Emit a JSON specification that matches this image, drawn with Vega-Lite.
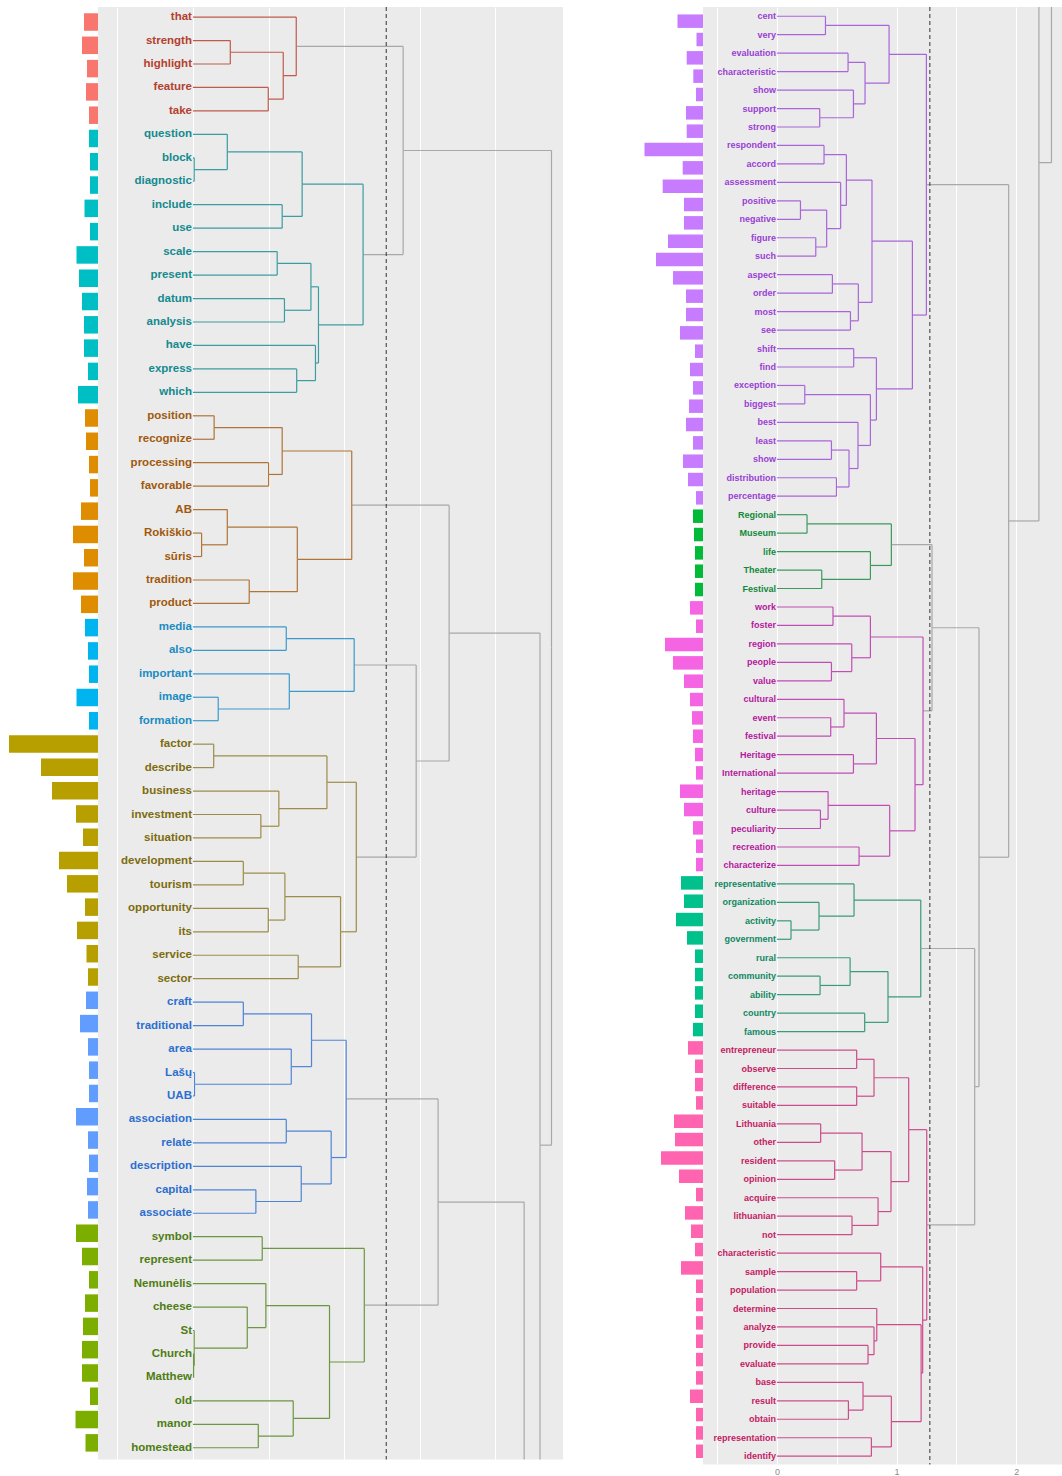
{
"$schema":"https://vega.github.io/schema/vega-lite/v6.json",
"padding":{"left":0,"top":6,"right":0,"bottom":0},
"spacing":0,
"bounds":"flush",
"config":{"view":{"stroke":null},"font":"Liberation Sans"},
"resolve":{"scale":{"x":"independent","y":"independent","color":"independent","stroke":"independent"}},
"datasets":{
"cut":[{"h":1.278}],
"leavesL":[
{"id":1,"w":"that","n":14,"g":"red"},{"id":2,"w":"strength","n":16,"g":"red"},{"id":3,"w":"highlight","n":11,"g":"red"},{"id":4,"w":"feature","n":12,"g":"red"},{"id":5,"w":"take","n":9,"g":"red"},
{"id":6,"w":"question","n":9,"g":"teal"},{"id":7,"w":"block","n":8,"g":"teal"},{"id":8,"w":"diagnostic","n":8,"g":"teal"},{"id":9,"w":"include","n":13.5,"g":"teal"},{"id":10,"w":"use","n":8,"g":"teal"},{"id":11,"w":"scale","n":21.5,"g":"teal"},{"id":12,"w":"present","n":19,"g":"teal"},{"id":13,"w":"datum","n":16,"g":"teal"},{"id":14,"w":"analysis","n":14,"g":"teal"},{"id":15,"w":"have","n":14,"g":"teal"},{"id":16,"w":"express","n":10,"g":"teal"},{"id":17,"w":"which","n":20,"g":"teal"},
{"id":18,"w":"position","n":13,"g":"orange"},{"id":19,"w":"recognize","n":12,"g":"orange"},{"id":20,"w":"processing","n":9,"g":"orange"},{"id":21,"w":"favorable","n":8,"g":"orange"},{"id":22,"w":"AB","n":17,"g":"orange"},{"id":23,"w":"Rokiškio","n":25,"g":"orange"},{"id":24,"w":"sūris","n":14,"g":"orange"},{"id":25,"w":"tradition","n":25,"g":"orange"},{"id":26,"w":"product","n":17,"g":"orange"},
{"id":27,"w":"media","n":13,"g":"lblue"},{"id":28,"w":"also","n":10,"g":"lblue"},{"id":29,"w":"important","n":9,"g":"lblue"},{"id":30,"w":"image","n":21.5,"g":"lblue"},{"id":31,"w":"formation","n":9,"g":"lblue"},
{"id":32,"w":"factor","n":89,"g":"olive"},{"id":33,"w":"describe","n":57,"g":"olive"},{"id":34,"w":"business","n":46,"g":"olive"},{"id":35,"w":"investment","n":22,"g":"olive"},{"id":36,"w":"situation","n":15,"g":"olive"},{"id":37,"w":"development","n":39,"g":"olive"},{"id":38,"w":"tourism","n":31,"g":"olive"},{"id":39,"w":"opportunity","n":13,"g":"olive"},{"id":40,"w":"its","n":21,"g":"olive"},{"id":41,"w":"service","n":11.5,"g":"olive"},{"id":42,"w":"sector","n":10,"g":"olive"},
{"id":43,"w":"craft","n":12,"g":"blue"},{"id":44,"w":"traditional","n":18,"g":"blue"},{"id":45,"w":"area","n":10,"g":"blue"},{"id":46,"w":"Lašų","n":9,"g":"blue"},{"id":47,"w":"UAB","n":9,"g":"blue"},{"id":48,"w":"association","n":22,"g":"blue"},{"id":49,"w":"relate","n":10,"g":"blue"},{"id":50,"w":"description","n":9,"g":"blue"},{"id":51,"w":"capital","n":11,"g":"blue"},{"id":52,"w":"associate","n":10,"g":"blue"},
{"id":53,"w":"symbol","n":22,"g":"green"},{"id":54,"w":"represent","n":16,"g":"green"},{"id":55,"w":"Nemunėlis","n":9,"g":"green"},{"id":56,"w":"cheese","n":13,"g":"green"},{"id":57,"w":"St","n":15,"g":"green"},{"id":58,"w":"Church","n":16,"g":"green"},{"id":59,"w":"Matthew","n":16,"g":"green"},{"id":60,"w":"old","n":8,"g":"green"},{"id":61,"w":"manor","n":22.5,"g":"green"},{"id":62,"w":"homestead","n":12.5,"g":"green"}
],
"leavesR":[
{"id":63,"w":"cent","n":25.5,"g":"purple"},{"id":64,"w":"very","n":6.5,"g":"purple"},{"id":65,"w":"evaluation","n":16.3,"g":"purple"},{"id":66,"w":"characteristic","n":9.7,"g":"purple"},{"id":67,"w":"show","n":7,"g":"purple"},{"id":68,"w":"support","n":17,"g":"purple"},{"id":69,"w":"strong","n":16.3,"g":"purple"},{"id":70,"w":"respondent","n":58.5,"g":"purple"},{"id":71,"w":"accord","n":20.3,"g":"purple"},{"id":72,"w":"assessment","n":40.3,"g":"purple"},{"id":73,"w":"positive","n":19,"g":"purple"},{"id":74,"w":"negative","n":19,"g":"purple"},{"id":75,"w":"figure","n":35,"g":"purple"},{"id":76,"w":"such","n":47,"g":"purple"},{"id":77,"w":"aspect","n":30,"g":"purple"},{"id":78,"w":"order","n":17,"g":"purple"},{"id":79,"w":"most","n":17,"g":"purple"},{"id":80,"w":"see","n":23,"g":"purple"},{"id":81,"w":"shift","n":8,"g":"purple"},{"id":82,"w":"find","n":13,"g":"purple"},{"id":83,"w":"exception","n":10,"g":"purple"},{"id":84,"w":"biggest","n":14,"g":"purple"},{"id":85,"w":"best","n":17,"g":"purple"},{"id":86,"w":"least","n":10,"g":"purple"},{"id":87,"w":"show","n":20,"g":"purple"},{"id":88,"w":"distribution","n":15,"g":"purple"},{"id":89,"w":"percentage","n":7,"g":"purple"},
{"id":90,"w":"Regional","n":10,"g":"greenR"},{"id":91,"w":"Museum","n":9,"g":"greenR"},{"id":92,"w":"life","n":8,"g":"greenR"},{"id":93,"w":"Theater","n":8,"g":"greenR"},{"id":94,"w":"Festival","n":8,"g":"greenR"},
{"id":95,"w":"work","n":13,"g":"magenta"},{"id":96,"w":"foster","n":7,"g":"magenta"},{"id":97,"w":"region","n":38,"g":"magenta"},{"id":98,"w":"people","n":30,"g":"magenta"},{"id":99,"w":"value","n":19,"g":"magenta"},{"id":100,"w":"cultural","n":13,"g":"magenta"},{"id":101,"w":"event","n":11,"g":"magenta"},{"id":102,"w":"festival","n":10,"g":"magenta"},{"id":103,"w":"Heritage","n":8,"g":"magenta"},{"id":104,"w":"International","n":7,"g":"magenta"},{"id":105,"w":"heritage","n":23,"g":"magenta"},{"id":106,"w":"culture","n":19,"g":"magenta"},{"id":107,"w":"peculiarity","n":10,"g":"magenta"},{"id":108,"w":"recreation","n":7,"g":"magenta"},{"id":109,"w":"characterize","n":7,"g":"magenta"},
{"id":110,"w":"representative","n":22,"g":"tgreen"},{"id":111,"w":"organization","n":19,"g":"tgreen"},{"id":112,"w":"activity","n":27,"g":"tgreen"},{"id":113,"w":"government","n":16,"g":"tgreen"},{"id":114,"w":"rural","n":8,"g":"tgreen"},{"id":115,"w":"community","n":8,"g":"tgreen"},{"id":116,"w":"ability","n":8,"g":"tgreen"},{"id":117,"w":"country","n":8,"g":"tgreen"},{"id":118,"w":"famous","n":10,"g":"tgreen"},
{"id":119,"w":"entrepreneur","n":15,"g":"pink"},{"id":120,"w":"observe","n":8,"g":"pink"},{"id":121,"w":"difference","n":8,"g":"pink"},{"id":122,"w":"suitable","n":7,"g":"pink"},{"id":123,"w":"Lithuania","n":29,"g":"pink"},{"id":124,"w":"other","n":28,"g":"pink"},{"id":125,"w":"resident","n":42,"g":"pink"},{"id":126,"w":"opinion","n":24,"g":"pink"},{"id":127,"w":"acquire","n":7,"g":"pink"},{"id":128,"w":"lithuanian","n":18,"g":"pink"},{"id":129,"w":"not","n":12,"g":"pink"},{"id":130,"w":"characteristic","n":8,"g":"pink"},{"id":131,"w":"sample","n":22,"g":"pink"},{"id":132,"w":"population","n":7,"g":"pink"},{"id":133,"w":"determine","n":7,"g":"pink"},{"id":134,"w":"analyze","n":7,"g":"pink"},{"id":135,"w":"provide","n":7,"g":"pink"},{"id":136,"w":"evaluate","n":7,"g":"pink"},{"id":137,"w":"base","n":7,"g":"pink"},{"id":138,"w":"result","n":13,"g":"pink"},{"id":139,"w":"obtain","n":7,"g":"pink"},{"id":140,"w":"representation","n":7,"g":"pink"},{"id":141,"w":"identify","n":7,"g":"pink"}
],
"edges":[
{"a":0,"b":0.247,"y":2,"m":2.5,"g":"red"},{"a":0,"b":0.247,"y":3,"m":2.5,"g":"red"},{"a":0,"b":0.498,"y":4,"m":4.5,"g":"red"},{"a":0,"b":0.498,"y":5,"m":4.5,"g":"red"},{"a":0.247,"b":0.597,"y":2.5,"m":3.5,"g":"red"},{"a":0.498,"b":0.597,"y":4.5,"m":3.5,"g":"red"},{"a":0,"b":0.683,"y":1,"m":2.25,"g":"red"},{"a":0.597,"b":0.683,"y":3.5,"m":2.25,"g":"red"},
{"a":0.683,"b":1.39,"y":2.25,"m":6.6875,"g":"gray"},{"a":1.125,"b":1.39,"y":11.125,"m":6.6875,"g":"gray"},
{"a":0,"b":0.008,"y":7,"m":7.5,"g":"teal"},{"a":0,"b":0.008,"y":8,"m":7.5,"g":"teal"},{"a":0,"b":0.227,"y":6,"m":6.75,"g":"teal"},{"a":0.008,"b":0.227,"y":7.5,"m":6.75,"g":"teal"},{"a":0,"b":0.59,"y":9,"m":9.5,"g":"teal"},{"a":0,"b":0.59,"y":10,"m":9.5,"g":"teal"},{"a":0.227,"b":0.722,"y":6.75,"m":8.125,"g":"teal"},{"a":0.59,"b":0.722,"y":9.5,"m":8.125,"g":"teal"},{"a":0,"b":0.557,"y":11,"m":11.5,"g":"teal"},{"a":0,"b":0.557,"y":12,"m":11.5,"g":"teal"},{"a":0,"b":0.605,"y":13,"m":13.5,"g":"teal"},{"a":0,"b":0.605,"y":14,"m":13.5,"g":"teal"},{"a":0.557,"b":0.78,"y":11.5,"m":12.5,"g":"teal"},{"a":0.605,"b":0.78,"y":13.5,"m":12.5,"g":"teal"},{"a":0,"b":0.686,"y":16,"m":16.5,"g":"teal"},{"a":0,"b":0.686,"y":17,"m":16.5,"g":"teal"},{"a":0,"b":0.81,"y":15,"m":15.75,"g":"teal"},{"a":0.686,"b":0.81,"y":16.5,"m":15.75,"g":"teal"},{"a":0.78,"b":0.83,"y":12.5,"m":14.125,"g":"teal"},{"a":0.81,"b":0.83,"y":15.75,"m":14.125,"g":"teal"},{"a":0.722,"b":1.125,"y":8.125,"m":11.125,"g":"teal"},{"a":0.83,"b":1.125,"y":14.125,"m":11.125,"g":"teal"},
{"a":0,"b":0.14,"y":18,"m":18.5,"g":"orange"},{"a":0,"b":0.14,"y":19,"m":18.5,"g":"orange"},{"a":0,"b":0.5,"y":20,"m":20.5,"g":"orange"},{"a":0,"b":0.5,"y":21,"m":20.5,"g":"orange"},{"a":0.14,"b":0.59,"y":18.5,"m":19.5,"g":"orange"},{"a":0.5,"b":0.59,"y":20.5,"m":19.5,"g":"orange"},{"a":0,"b":0.057,"y":23,"m":23.5,"g":"orange"},{"a":0,"b":0.057,"y":24,"m":23.5,"g":"orange"},{"a":0,"b":0.227,"y":22,"m":22.75,"g":"orange"},{"a":0.057,"b":0.227,"y":23.5,"m":22.75,"g":"orange"},{"a":0,"b":0.372,"y":25,"m":25.5,"g":"orange"},{"a":0,"b":0.372,"y":26,"m":25.5,"g":"orange"},{"a":0.227,"b":0.69,"y":22.75,"m":24.125,"g":"orange"},{"a":0.372,"b":0.69,"y":25.5,"m":24.125,"g":"orange"},{"a":0.59,"b":1.05,"y":19.5,"m":21.8125,"g":"orange"},{"a":0.69,"b":1.05,"y":24.125,"m":21.8125,"g":"orange"},
{"a":0,"b":0.617,"y":27,"m":27.5,"g":"lblue"},{"a":0,"b":0.617,"y":28,"m":27.5,"g":"lblue"},{"a":0,"b":0.167,"y":30,"m":30.5,"g":"lblue"},{"a":0,"b":0.167,"y":31,"m":30.5,"g":"lblue"},{"a":0,"b":0.637,"y":29,"m":29.75,"g":"lblue"},{"a":0.167,"b":0.637,"y":30.5,"m":29.75,"g":"lblue"},{"a":0.617,"b":1.066,"y":27.5,"m":28.625,"g":"lblue"},{"a":0.637,"b":1.066,"y":29.75,"m":28.625,"g":"lblue"},
{"a":0,"b":0.137,"y":32,"m":32.5,"g":"olive"},{"a":0,"b":0.137,"y":33,"m":32.5,"g":"olive"},{"a":0,"b":0.449,"y":35,"m":35.5,"g":"olive"},{"a":0,"b":0.449,"y":36,"m":35.5,"g":"olive"},{"a":0,"b":0.568,"y":34,"m":34.75,"g":"olive"},{"a":0.449,"b":0.568,"y":35.5,"m":34.75,"g":"olive"},{"a":0.137,"b":0.886,"y":32.5,"m":33.625,"g":"olive"},{"a":0.568,"b":0.886,"y":34.75,"m":33.625,"g":"olive"},{"a":0,"b":0.333,"y":37,"m":37.5,"g":"olive"},{"a":0,"b":0.333,"y":38,"m":37.5,"g":"olive"},{"a":0,"b":0.498,"y":39,"m":39.5,"g":"olive"},{"a":0,"b":0.498,"y":40,"m":39.5,"g":"olive"},{"a":0.333,"b":0.608,"y":37.5,"m":38.5,"g":"olive"},{"a":0.498,"b":0.608,"y":39.5,"m":38.5,"g":"olive"},{"a":0,"b":0.696,"y":41,"m":41.5,"g":"olive"},{"a":0,"b":0.696,"y":42,"m":41.5,"g":"olive"},{"a":0.608,"b":0.976,"y":38.5,"m":40,"g":"olive"},{"a":0.696,"b":0.976,"y":41.5,"m":40,"g":"olive"},{"a":0.886,"b":1.08,"y":33.625,"m":36.8125,"g":"olive"},{"a":0.976,"b":1.08,"y":40,"m":36.8125,"g":"olive"},
{"a":1.066,"b":1.476,"y":28.625,"m":32.71875,"g":"gray"},{"a":1.08,"b":1.476,"y":36.8125,"m":32.71875,"g":"gray"},{"a":1.05,"b":1.694,"y":21.8125,"m":27.2656,"g":"gray"},{"a":1.476,"b":1.694,"y":32.71875,"m":27.2656,"g":"gray"},
{"a":0,"b":0.333,"y":43,"m":43.5,"g":"blue"},{"a":0,"b":0.333,"y":44,"m":43.5,"g":"blue"},{"a":0,"b":0.01,"y":46,"m":46.5,"g":"blue"},{"a":0,"b":0.01,"y":47,"m":46.5,"g":"blue"},{"a":0,"b":0.65,"y":45,"m":45.75,"g":"blue"},{"a":0.01,"b":0.65,"y":46.5,"m":45.75,"g":"blue"},{"a":0.333,"b":0.784,"y":43.5,"m":44.625,"g":"blue"},{"a":0.65,"b":0.784,"y":45.75,"m":44.625,"g":"blue"},{"a":0,"b":0.617,"y":48,"m":48.5,"g":"blue"},{"a":0,"b":0.617,"y":49,"m":48.5,"g":"blue"},{"a":0,"b":0.416,"y":51,"m":51.5,"g":"blue"},{"a":0,"b":0.416,"y":52,"m":51.5,"g":"blue"},{"a":0,"b":0.716,"y":50,"m":50.75,"g":"blue"},{"a":0.416,"b":0.716,"y":51.5,"m":50.75,"g":"blue"},{"a":0.617,"b":0.914,"y":48.5,"m":49.625,"g":"blue"},{"a":0.716,"b":0.914,"y":50.75,"m":49.625,"g":"blue"},{"a":0.784,"b":1.013,"y":44.625,"m":47.125,"g":"blue"},{"a":0.914,"b":1.013,"y":49.625,"m":47.125,"g":"blue"},
{"a":0,"b":0.458,"y":53,"m":53.5,"g":"green"},{"a":0,"b":0.458,"y":54,"m":53.5,"g":"green"},{"a":0,"b":0.004,"y":58,"m":58.5,"g":"green"},{"a":0,"b":0.004,"y":59,"m":58.5,"g":"green"},{"a":0,"b":0.008,"y":57,"m":57.75,"g":"green"},{"a":0.004,"b":0.008,"y":58.5,"m":57.75,"g":"green"},{"a":0,"b":0.359,"y":56,"m":56.875,"g":"green"},{"a":0.008,"b":0.359,"y":57.75,"m":56.875,"g":"green"},{"a":0,"b":0.482,"y":55,"m":55.9375,"g":"green"},{"a":0.359,"b":0.482,"y":56.875,"m":55.9375,"g":"green"},{"a":0,"b":0.432,"y":61,"m":61.5,"g":"green"},{"a":0,"b":0.432,"y":62,"m":61.5,"g":"green"},{"a":0,"b":0.663,"y":60,"m":60.75,"g":"green"},{"a":0.432,"b":0.663,"y":61.5,"m":60.75,"g":"green"},{"a":0.482,"b":0.903,"y":55.9375,"m":58.34375,"g":"green"},{"a":0.663,"b":0.903,"y":60.75,"m":58.34375,"g":"green"},{"a":0.458,"b":1.133,"y":53.5,"m":55.9219,"g":"green"},{"a":0.903,"b":1.133,"y":58.34375,"m":55.9219,"g":"green"},
{"a":1.013,"b":1.621,"y":47.125,"m":51.5234,"g":"gray"},{"a":1.133,"b":1.621,"y":55.9219,"m":51.5234,"g":"gray"},
{"a":0,"b":0.405,"y":63,"m":63.5,"g":"purple"},{"a":0,"b":0.405,"y":64,"m":63.5,"g":"purple"},{"a":0,"b":0.594,"y":65,"m":65.5,"g":"purple"},{"a":0,"b":0.594,"y":66,"m":65.5,"g":"purple"},{"a":0,"b":0.357,"y":68,"m":68.5,"g":"purple"},{"a":0,"b":0.357,"y":69,"m":68.5,"g":"purple"},{"a":0,"b":0.639,"y":67,"m":67.75,"g":"purple"},{"a":0.357,"b":0.639,"y":68.5,"m":67.75,"g":"purple"},{"a":0.594,"b":0.736,"y":65.5,"m":66.625,"g":"purple"},{"a":0.639,"b":0.736,"y":67.75,"m":66.625,"g":"purple"},{"a":0.405,"b":0.937,"y":63.5,"m":65.0625,"g":"purple"},{"a":0.736,"b":0.937,"y":66.625,"m":65.0625,"g":"purple"},
{"a":0,"b":0.393,"y":70,"m":70.5,"g":"purple"},{"a":0,"b":0.393,"y":71,"m":70.5,"g":"purple"},{"a":0,"b":0.196,"y":73,"m":73.5,"g":"purple"},{"a":0,"b":0.196,"y":74,"m":73.5,"g":"purple"},{"a":0,"b":0.324,"y":75,"m":75.5,"g":"purple"},{"a":0,"b":0.324,"y":76,"m":75.5,"g":"purple"},{"a":0.196,"b":0.415,"y":73.5,"m":74.5,"g":"purple"},{"a":0.324,"b":0.415,"y":75.5,"m":74.5,"g":"purple"},{"a":0,"b":0.532,"y":72,"m":73.25,"g":"purple"},{"a":0.415,"b":0.532,"y":74.5,"m":73.25,"g":"purple"},{"a":0.393,"b":0.58,"y":70.5,"m":71.875,"g":"purple"},{"a":0.532,"b":0.58,"y":73.25,"m":71.875,"g":"purple"},
{"a":0,"b":0.463,"y":77,"m":77.5,"g":"purple"},{"a":0,"b":0.463,"y":78,"m":77.5,"g":"purple"},{"a":0,"b":0.614,"y":79,"m":79.5,"g":"purple"},{"a":0,"b":0.614,"y":80,"m":79.5,"g":"purple"},{"a":0.463,"b":0.68,"y":77.5,"m":78.5,"g":"purple"},{"a":0.614,"b":0.68,"y":79.5,"m":78.5,"g":"purple"},{"a":0.58,"b":0.794,"y":71.875,"m":75.1875,"g":"purple"},{"a":0.68,"b":0.794,"y":78.5,"m":75.1875,"g":"purple"},
{"a":0,"b":0.641,"y":81,"m":81.5,"g":"purple"},{"a":0,"b":0.641,"y":82,"m":81.5,"g":"purple"},{"a":0,"b":0.232,"y":83,"m":83.5,"g":"purple"},{"a":0,"b":0.232,"y":84,"m":83.5,"g":"purple"},{"a":0,"b":0.455,"y":86,"m":86.5,"g":"purple"},{"a":0,"b":0.455,"y":87,"m":86.5,"g":"purple"},{"a":0,"b":0.497,"y":88,"m":88.5,"g":"purple"},{"a":0,"b":0.497,"y":89,"m":88.5,"g":"purple"},{"a":0.455,"b":0.602,"y":86.5,"m":87.5,"g":"purple"},{"a":0.497,"b":0.602,"y":88.5,"m":87.5,"g":"purple"},{"a":0,"b":0.677,"y":85,"m":86.25,"g":"purple"},{"a":0.602,"b":0.677,"y":87.5,"m":86.25,"g":"purple"},{"a":0.232,"b":0.781,"y":83.5,"m":84.875,"g":"purple"},{"a":0.677,"b":0.781,"y":86.25,"m":84.875,"g":"purple"},{"a":0.641,"b":0.831,"y":81.5,"m":83.1875,"g":"purple"},{"a":0.781,"b":0.831,"y":84.875,"m":83.1875,"g":"purple"},{"a":0.794,"b":1.132,"y":75.1875,"m":79.1875,"g":"purple"},{"a":0.831,"b":1.132,"y":83.1875,"m":79.1875,"g":"purple"},{"a":0.937,"b":1.249,"y":65.0625,"m":72.125,"g":"purple"},{"a":1.132,"b":1.249,"y":79.1875,"m":72.125,"g":"purple"},
{"a":0,"b":0.251,"y":90,"m":90.5,"g":"greenR"},{"a":0,"b":0.251,"y":91,"m":90.5,"g":"greenR"},{"a":0,"b":0.374,"y":93,"m":93.5,"g":"greenR"},{"a":0,"b":0.374,"y":94,"m":93.5,"g":"greenR"},{"a":0,"b":0.781,"y":92,"m":92.75,"g":"greenR"},{"a":0.374,"b":0.781,"y":93.5,"m":92.75,"g":"greenR"},{"a":0.251,"b":0.956,"y":90.5,"m":91.625,"g":"greenR"},{"a":0.781,"b":0.956,"y":92.75,"m":91.625,"g":"greenR"},
{"a":0,"b":0.468,"y":95,"m":95.5,"g":"magenta"},{"a":0,"b":0.468,"y":96,"m":95.5,"g":"magenta"},{"a":0,"b":0.455,"y":98,"m":98.5,"g":"magenta"},{"a":0,"b":0.455,"y":99,"m":98.5,"g":"magenta"},{"a":0,"b":0.625,"y":97,"m":97.75,"g":"magenta"},{"a":0.455,"b":0.625,"y":98.5,"m":97.75,"g":"magenta"},{"a":0.468,"b":0.781,"y":95.5,"m":96.625,"g":"magenta"},{"a":0.625,"b":0.781,"y":97.75,"m":96.625,"g":"magenta"},{"a":0,"b":0.449,"y":101,"m":101.5,"g":"magenta"},{"a":0,"b":0.449,"y":102,"m":101.5,"g":"magenta"},{"a":0,"b":0.56,"y":100,"m":100.75,"g":"magenta"},{"a":0.449,"b":0.56,"y":101.5,"m":100.75,"g":"magenta"},{"a":0,"b":0.639,"y":103,"m":103.5,"g":"magenta"},{"a":0,"b":0.639,"y":104,"m":103.5,"g":"magenta"},{"a":0.56,"b":0.831,"y":100.75,"m":102.125,"g":"magenta"},{"a":0.639,"b":0.831,"y":103.5,"m":102.125,"g":"magenta"},{"a":0,"b":0.363,"y":106,"m":106.5,"g":"magenta"},{"a":0,"b":0.363,"y":107,"m":106.5,"g":"magenta"},{"a":0,"b":0.427,"y":105,"m":105.75,"g":"magenta"},{"a":0.363,"b":0.427,"y":106.5,"m":105.75,"g":"magenta"},{"a":0,"b":0.686,"y":108,"m":108.5,"g":"magenta"},{"a":0,"b":0.686,"y":109,"m":108.5,"g":"magenta"},{"a":0.427,"b":0.942,"y":105.75,"m":107.125,"g":"magenta"},{"a":0.686,"b":0.942,"y":108.5,"m":107.125,"g":"magenta"},{"a":0.831,"b":1.154,"y":102.125,"m":104.625,"g":"magenta"},{"a":0.942,"b":1.154,"y":107.125,"m":104.625,"g":"magenta"},{"a":0.781,"b":1.221,"y":96.625,"m":100.625,"g":"magenta"},{"a":1.154,"b":1.221,"y":104.625,"m":100.625,"g":"magenta"},
{"a":0.956,"b":1.296,"y":91.625,"m":96.125,"g":"gray"},{"a":1.221,"b":1.296,"y":100.625,"m":96.125,"g":"gray"},
{"a":0,"b":0.117,"y":112,"m":112.5,"g":"tgreen"},{"a":0,"b":0.117,"y":113,"m":112.5,"g":"tgreen"},{"a":0,"b":0.351,"y":111,"m":111.75,"g":"tgreen"},{"a":0.117,"b":0.351,"y":112.5,"m":111.75,"g":"tgreen"},{"a":0,"b":0.644,"y":110,"m":110.875,"g":"tgreen"},{"a":0.351,"b":0.644,"y":111.75,"m":110.875,"g":"tgreen"},{"a":0,"b":0.36,"y":115,"m":115.5,"g":"tgreen"},{"a":0,"b":0.36,"y":116,"m":115.5,"g":"tgreen"},{"a":0,"b":0.611,"y":114,"m":114.75,"g":"tgreen"},{"a":0.36,"b":0.611,"y":115.5,"m":114.75,"g":"tgreen"},{"a":0,"b":0.733,"y":117,"m":117.5,"g":"tgreen"},{"a":0,"b":0.733,"y":118,"m":117.5,"g":"tgreen"},{"a":0.611,"b":0.928,"y":114.75,"m":116.125,"g":"tgreen"},{"a":0.733,"b":0.928,"y":117.5,"m":116.125,"g":"tgreen"},{"a":0.644,"b":1.202,"y":110.875,"m":113.5,"g":"tgreen"},{"a":0.928,"b":1.202,"y":116.125,"m":113.5,"g":"tgreen"},
{"a":0,"b":0.666,"y":119,"m":119.5,"g":"pink"},{"a":0,"b":0.666,"y":120,"m":119.5,"g":"pink"},{"a":0,"b":0.666,"y":121,"m":121.5,"g":"pink"},{"a":0,"b":0.666,"y":122,"m":121.5,"g":"pink"},{"a":0.666,"b":0.811,"y":119.5,"m":120.5,"g":"pink"},{"a":0.666,"b":0.811,"y":121.5,"m":120.5,"g":"pink"},{"a":0,"b":0.365,"y":123,"m":123.5,"g":"pink"},{"a":0,"b":0.365,"y":124,"m":123.5,"g":"pink"},{"a":0,"b":0.482,"y":125,"m":125.5,"g":"pink"},{"a":0,"b":0.482,"y":126,"m":125.5,"g":"pink"},{"a":0.365,"b":0.711,"y":123.5,"m":124.5,"g":"pink"},{"a":0.482,"b":0.711,"y":125.5,"m":124.5,"g":"pink"},{"a":0,"b":0.627,"y":128,"m":128.5,"g":"pink"},{"a":0,"b":0.627,"y":129,"m":128.5,"g":"pink"},{"a":0,"b":0.845,"y":127,"m":127.75,"g":"pink"},{"a":0.627,"b":0.845,"y":128.5,"m":127.75,"g":"pink"},{"a":0.711,"b":0.953,"y":124.5,"m":126.125,"g":"pink"},{"a":0.845,"b":0.953,"y":127.75,"m":126.125,"g":"pink"},{"a":0.811,"b":1.101,"y":120.5,"m":123.3125,"g":"pink"},{"a":0.953,"b":1.101,"y":126.125,"m":123.3125,"g":"pink"},
{"a":0,"b":0.666,"y":131,"m":131.5,"g":"pink"},{"a":0,"b":0.666,"y":132,"m":131.5,"g":"pink"},{"a":0,"b":0.867,"y":130,"m":130.75,"g":"pink"},{"a":0.666,"b":0.867,"y":131.5,"m":130.75,"g":"pink"},{"a":0,"b":0.761,"y":135,"m":135.5,"g":"pink"},{"a":0,"b":0.761,"y":136,"m":135.5,"g":"pink"},{"a":0,"b":0.811,"y":134,"m":134.75,"g":"pink"},{"a":0.761,"b":0.811,"y":135.5,"m":134.75,"g":"pink"},{"a":0,"b":0.834,"y":133,"m":133.875,"g":"pink"},{"a":0.811,"b":0.834,"y":134.75,"m":133.875,"g":"pink"},{"a":0,"b":0.597,"y":138,"m":138.5,"g":"pink"},{"a":0,"b":0.597,"y":139,"m":138.5,"g":"pink"},{"a":0,"b":0.719,"y":137,"m":137.75,"g":"pink"},{"a":0.597,"b":0.719,"y":138.5,"m":137.75,"g":"pink"},{"a":0,"b":0.789,"y":140,"m":140.5,"g":"pink"},{"a":0,"b":0.789,"y":141,"m":140.5,"g":"pink"},{"a":0.719,"b":0.956,"y":137.75,"m":139.125,"g":"pink"},{"a":0.789,"b":0.956,"y":140.5,"m":139.125,"g":"pink"},{"a":0.834,"b":1.205,"y":133.875,"m":136.5,"g":"pink"},{"a":0.956,"b":1.205,"y":139.125,"m":136.5,"g":"pink"},{"a":0.867,"b":1.218,"y":130.75,"m":133.625,"g":"pink"},{"a":1.205,"b":1.218,"y":136.5,"m":133.625,"g":"pink"},{"a":1.101,"b":1.252,"y":123.3125,"m":128.46875,"g":"pink"},{"a":1.218,"b":1.252,"y":133.625,"m":128.46875,"g":"pink"},
{"a":1.202,"b":1.653,"y":113.5,"m":120.984,"g":"gray"},{"a":1.252,"b":1.653,"y":128.46875,"m":120.984,"g":"gray"},{"a":1.296,"b":1.689,"y":96.125,"m":108.555,"g":"gray"},{"a":1.653,"b":1.689,"y":120.984,"m":108.555,"g":"gray"},{"a":1.249,"b":1.937,"y":72.125,"m":90.34,"g":"gray"},{"a":1.689,"b":1.937,"y":108.555,"m":90.34,"g":"gray"},{"a":1.621,"b":2.19,"y":51.5234,"m":70.93,"g":"gray"},{"a":1.937,"b":2.19,"y":90.34,"m":70.93,"g":"gray"},{"a":1.694,"b":2.295,"y":27.2656,"m":49.098,"g":"gray"},{"a":2.19,"b":2.295,"y":70.93,"m":49.098,"g":"gray"},{"a":1.39,"b":2.371,"y":6.6875,"m":27.89,"g":"gray"},{"a":2.295,"b":2.371,"y":49.098,"m":27.89,"g":"gray"}
]
},
"hconcat":[
{"width":98,"height":1452.5,"data":{"name":"leavesL"},
 "mark":{"type":"bar","orient":"horizontal","size":17.5},
 "encoding":{
  "x":{"field":"n","type":"quantitative","scale":{"domain":[0,98],"reverse":true,"nice":false,"zero":false},"axis":null},
  "x2":{"datum":0},
  "y":{"field":"id","type":"quantitative","scale":{"domain":[0.57,62.5],"reverse":true,"nice":false,"zero":false},"axis":null},
  "color":{"field":"g","type":"nominal","legend":null,"scale":{"domain":["red","teal","orange","lblue","olive","blue","green","purple","greenR","magenta","tgreen","pink","gray"],"range":["#F8766D","#00BFC4","#DE8C00","#00B4F0","#B79F00","#619CFF","#7CAE00","#C77CFF","#00BA38","#F564E3","#00C08B","#FF64B0","#999999"]}}
 }},
{"width":465,"height":1452.5,"view":{"fill":"#EBEBEB","stroke":null},
 "layer":[
  {"data":{"name":"edges"},"mark":{"type":"rule","clip":true,"strokeWidth":1.2},
   "encoding":{
    "x":{"field":"a","type":"quantitative","scale":{"domain":[-0.628,2.447],"nice":false,"zero":false},"axis":{"values":[-0.5,0,0.5,1,1.5,2],"labels":false,"ticks":false,"domain":false,"title":null,"grid":true,"gridColor":"#FFFFFF","gridWidth":1}},
    "x2":{"field":"b"},
    "y":{"field":"y","type":"quantitative","scale":{"domain":[0.57,62.5],"reverse":true,"nice":false,"zero":false},"axis":null},
    "stroke":{"field":"g","type":"nominal","legend":null,"scale":{"domain":["red","teal","orange","lblue","olive","blue","green","purple","greenR","magenta","tgreen","pink","gray"],"range":["#BF5B4E","#3C9CA0","#AE7438","#3C9ACB","#9C8C48","#4E84D4","#6E9640","#A866DA","#3C9A5A","#C04EB4","#3A9A7C","#CC4C8A","#A8A8A8"]}}
   }},
  {"data":{"name":"edges"},"mark":{"type":"rule","clip":true,"strokeWidth":1.2},
   "encoding":{
    "x":{"field":"b","type":"quantitative"},
    "y":{"field":"y","type":"quantitative","axis":null},
    "y2":{"field":"m"},
    "stroke":{"field":"g","type":"nominal","legend":null}
   }},
  {"data":{"name":"cut"},"mark":{"type":"rule","strokeDash":[4,3],"color":"#333333","strokeWidth":1},
   "encoding":{"x":{"field":"h","type":"quantitative"}}},
  {"data":{"name":"leavesL"},"mark":{"type":"text","align":"right","baseline":"middle","dx":-1,"fontSize":11.5,"fontWeight":"bold","font":"Liberation Sans"},
   "encoding":{
    "x":{"datum":0,"type":"quantitative"},
    "y":{"field":"id","type":"quantitative","axis":null},
    "text":{"field":"w"},
    "color":{"field":"g","type":"nominal","legend":null,"scale":{"domain":["red","teal","orange","lblue","olive","blue","green","purple","greenR","magenta","tgreen","pink","gray"],"range":["#B4402F","#138A8E","#A0590B","#1A8CC2","#7D6B0E","#2D6FCF","#4E7D12","#9A40D4","#12893A","#B4189E","#108862","#C41A63","#777777"]}}
   }}
 ]},
{"width":140,"height":1457.5,"data":{"name":"leavesR"},
 "mark":{"type":"bar","orient":"horizontal","size":13.5},
 "encoding":{
  "x":{"field":"n","type":"quantitative","scale":{"domain":[0,140],"reverse":true,"nice":false,"zero":false},"axis":null},
  "x2":{"datum":0},
  "y":{"field":"id","type":"quantitative","scale":{"domain":[62.5,141.45],"reverse":true,"nice":false,"zero":false},"axis":null},
  "color":{"field":"g","type":"nominal","legend":null,"scale":{"domain":["red","teal","orange","lblue","olive","blue","green","purple","greenR","magenta","tgreen","pink","gray"],"range":["#F8766D","#00BFC4","#DE8C00","#00B4F0","#B79F00","#619CFF","#7CAE00","#C77CFF","#00BA38","#F564E3","#00C08B","#FF64B0","#999999"]}}
 }},
{"width":359,"height":1457.5,"view":{"fill":"#EBEBEB","stroke":null},
 "layer":[
  {"data":{"name":"edges"},"mark":{"type":"rule","clip":true,"strokeWidth":1.2},
   "encoding":{
    "x":{"field":"a","type":"quantitative","scale":{"domain":[-0.619,2.383],"nice":false,"zero":false},"axis":{"values":[-0.5,0,0.5,1,1.5,2],"labelExpr":"datum.value % 1 === 0 ? format(datum.value, 'd') : ''","ticks":false,"domain":false,"title":null,"grid":true,"gridColor":"#FFFFFF","gridWidth":1,"labelColor":"#8C8C8C","labelFontSize":9,"labelPadding":3,"labelFont":"Liberation Sans"}},
    "x2":{"field":"b"},
    "y":{"field":"y","type":"quantitative","scale":{"domain":[62.5,141.45],"reverse":true,"nice":false,"zero":false},"axis":null},
    "stroke":{"field":"g","type":"nominal","legend":null,"scale":{"domain":["red","teal","orange","lblue","olive","blue","green","purple","greenR","magenta","tgreen","pink","gray"],"range":["#BF5B4E","#3C9CA0","#AE7438","#3C9ACB","#9C8C48","#4E84D4","#6E9640","#A866DA","#3C9A5A","#C04EB4","#3A9A7C","#CC4C8A","#A8A8A8"]}}
   }},
  {"data":{"name":"edges"},"mark":{"type":"rule","clip":true,"strokeWidth":1.2},
   "encoding":{
    "x":{"field":"b","type":"quantitative"},
    "y":{"field":"y","type":"quantitative","axis":null},
    "y2":{"field":"m"},
    "stroke":{"field":"g","type":"nominal","legend":null}
   }},
  {"data":{"name":"cut"},"mark":{"type":"rule","strokeDash":[4,3],"color":"#333333","strokeWidth":1},
   "encoding":{"x":{"field":"h","type":"quantitative"}}},
  {"data":{"name":"leavesR"},"mark":{"type":"text","align":"right","baseline":"middle","dx":-1,"fontSize":9,"fontWeight":"bold","font":"Liberation Sans"},
   "encoding":{
    "x":{"datum":0,"type":"quantitative"},
    "y":{"field":"id","type":"quantitative","axis":null},
    "text":{"field":"w"},
    "color":{"field":"g","type":"nominal","legend":null,"scale":{"domain":["red","teal","orange","lblue","olive","blue","green","purple","greenR","magenta","tgreen","pink","gray"],"range":["#B4402F","#138A8E","#A0590B","#1A8CC2","#7D6B0E","#2D6FCF","#4E7D12","#9A40D4","#12893A","#B4189E","#108862","#C41A63","#777777"]}}
   }}
 ]}
]
}
